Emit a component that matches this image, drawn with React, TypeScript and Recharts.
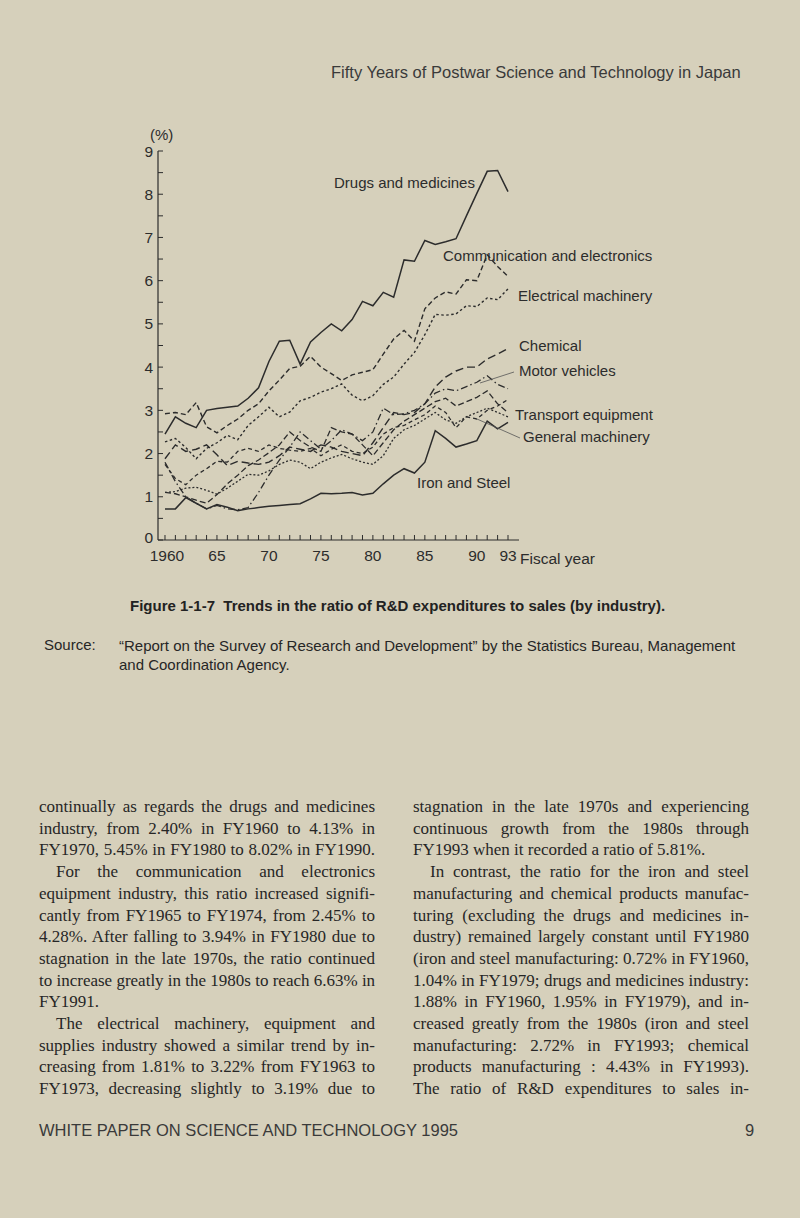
import React from 'react';
import { LineChart, Line, XAxis, YAxis } from 'recharts';

const years = [1960, 1961, 1962, 1963, 1964, 1965, 1966, 1967, 1968, 1969, 1970, 1971, 1972, 1973, 1974, 1975, 1976, 1977, 1978, 1979, 1980, 1981, 1982, 1983, 1984, 1985, 1986, 1987, 1988, 1989, 1990, 1991, 1992, 1993];

const drugs = [2.45, 2.85, 2.7, 2.6, 3.0, 3.04, 3.07, 3.1, 3.28, 3.52, 4.13, 4.6, 4.62, 4.07, 4.58, 4.8, 5.0, 4.84, 5.1, 5.52, 5.42, 5.73, 5.62, 6.48, 6.45, 6.93, 6.84, 6.9, 6.97, 7.5, 8.02, 8.53, 8.55, 8.06];
const communication = [2.92, 2.95, 2.9, 3.18, 2.62, 2.48, 2.65, 2.8, 3.0, 3.15, 3.45, 3.7, 3.97, 4.02, 4.25, 4.0, 3.85, 3.69, 3.82, 3.88, 3.94, 4.3, 4.65, 4.85, 4.6, 5.35, 5.6, 5.74, 5.69, 6.02, 6.0, 6.6, 6.33, 6.1];
const electrical = [2.27, 2.35, 2.14, 1.88, 2.12, 2.25, 2.42, 2.32, 2.65, 2.85, 3.07, 2.85, 2.96, 3.22, 3.3, 3.42, 3.5, 3.61, 3.35, 3.22, 3.34, 3.6, 3.77, 4.07, 4.34, 4.75, 5.22, 5.2, 5.23, 5.42, 5.4, 5.6, 5.56, 5.81];
const chemical = [1.88, 2.2, 2.05, 2.1, 2.2, 1.97, 1.72, 1.82, 1.78, 1.75, 1.8, 1.95, 2.15, 2.1, 2.05, 2.2, 2.15, 2.05, 2.0, 1.95, 2.25, 2.6, 2.95, 2.9, 2.95, 3.15, 3.54, 3.77, 3.91, 4.0, 4.0, 4.19, 4.3, 4.43];
const motorVehicles = [1.8, 1.35, 1.0, 0.85, 0.72, 0.8, 0.72, 0.7, 0.75, 1.1, 1.5, 1.85, 2.15, 2.5, 2.3, 2.1, 2.3, 2.55, 2.45, 2.3, 2.5, 3.05, 2.9, 2.92, 3.0, 3.15, 3.4, 3.5, 3.45, 3.55, 3.65, 3.8, 3.6, 3.5];
const generalMachinery = [1.75, 1.42, 1.28, 1.5, 1.65, 1.82, 1.8, 2.05, 2.12, 2.05, 2.2, 2.12, 2.08, 2.05, 2.12, 1.95, 2.1, 2.2, 2.05, 2.0, 2.15, 2.45, 2.6, 2.65, 2.78, 2.9, 3.1, 2.95, 2.6, 2.85, 2.8, 3.0, 3.1, 3.25];
const transportEquipment = [1.1, 1.07, 1.0, 0.92, 0.85, 1.05, 1.3, 1.5, 1.72, 1.85, 2.02, 2.2, 2.5, 2.3, 2.15, 2.05, 2.6, 2.5, 2.45, 2.2, 1.95, 2.25, 2.55, 2.75, 2.9, 3.05, 3.2, 3.28, 3.1, 3.2, 3.3, 3.45, 3.15, 2.95];
const otherIndustry = [1.1, 1.12, 1.2, 1.22, 1.15, 1.06, 1.2, 1.36, 1.52, 1.5, 1.6, 1.75, 1.85, 1.8, 1.65, 1.8, 1.9, 1.98, 1.88, 1.8, 1.75, 1.95, 2.35, 2.55, 2.65, 2.8, 2.95, 2.78, 2.7, 2.85, 2.95, 3.05, 2.95, 2.85];
const ironSteel = [0.72, 0.72, 0.98, 0.85, 0.72, 0.82, 0.76, 0.68, 0.72, 0.75, 0.78, 0.8, 0.82, 0.84, 0.95, 1.08, 1.07, 1.08, 1.1, 1.04, 1.08, 1.3, 1.5, 1.65, 1.55, 1.8, 2.53, 2.35, 2.15, 2.22, 2.3, 2.75, 2.57, 2.72];

const xLabels: Record<number, string> = { 1960: '1960', 1965: '65', 1970: '70', 1975: '75', 1980: '80', 1985: '85', 1990: '90', 1993: '93' };
const yTicks = [0, 0.5, 1, 1.5, 2, 2.5, 3, 3.5, 4, 4.5, 5, 5.5, 6, 6.5, 7, 7.5, 8, 8.5, 9];

const seriesStyles = [
  { key: 'drugs', dash: undefined, width: 1.5 },
  { key: 'communication', dash: '5 3', width: 1.4 },
  { key: 'electrical', dash: '2.5 2.5', width: 1.4 },
  { key: 'chemical', dash: '8 4', width: 1.4 },
  { key: 'motorVehicles', dash: '7 3 1.5 3', width: 1.3 },
  { key: 'generalMachinery', dash: '4 3', width: 1.3 },
  { key: 'transportEquipment', dash: '6 3', width: 1.3 },
  { key: 'otherIndustry', dash: '2 2', width: 1.3 },
  { key: 'ironSteel', dash: undefined, width: 1.5 },
];

const data = years.map((year, i) => ({
  year,
  drugs: drugs[i],
  communication: communication[i],
  electrical: electrical[i],
  chemical: chemical[i],
  motorVehicles: motorVehicles[i],
  generalMachinery: generalMachinery[i],
  transportEquipment: transportEquipment[i],
  otherIndustry: otherIndustry[i],
  ironSteel: ironSteel[i],
}));

const INK = '#2c2c2c';
const SANS = '"Liberation Sans", Arial, Helvetica, sans-serif';
const SERIF = '"Liberation Serif", "Times New Roman", serif';

const XTick = (props: any) => {
  const { x, y, payload } = props;
  const label = xLabels[payload.value];
  return (
    <g>
      <line x1={x} x2={x} y1={y} y2={y - 5} stroke={INK} strokeWidth={1} />
      {label && (
        <text x={payload.value === 1960 ? x + 2 : x} y={y + 21} textAnchor="middle" fontFamily={SANS} fontSize={15.5} fill={INK}>
          {label}
        </text>
      )}
    </g>
  );
};

const YTick = (props: any) => {
  const { x, y, payload } = props;
  const isInt = Number.isInteger(payload.value);
  return (
    <g>
      <line x1={x} x2={x + 5} y1={y} y2={y} stroke={INK} strokeWidth={1} />
      {isInt && (
        <text x={x - 5} y={payload.value === 0 ? y + 3 : y + 5.5} textAnchor="end" fontFamily={SANS} fontSize={15.5} fill={INK}>
          {payload.value}
        </text>
      )}
    </g>
  );
};

const chartLabels = [
  { text: 'Drugs and medicines', x: 334, y: 183 },
  { text: 'Communication and electronics', x: 443, y: 256 },
  { text: 'Electrical machinery', x: 518, y: 296 },
  { text: 'Chemical', x: 519, y: 346 },
  { text: 'Motor vehicles', x: 519, y: 371 },
  { text: 'Transport equipment', x: 515, y: 415 },
  { text: 'General machinery', x: 523, y: 437 },
  { text: 'Iron and Steel', x: 417, y: 483 },
];

const leftLines = [
  'continually as regards the drugs and medicines',
  'industry, from 2.40% in FY1960 to 4.13% in',
  'FY1970, 5.45% in FY1980 to 8.02% in FY1990.',
  '\u2003For the communication and electronics',
  'equipment industry, this ratio increased signifi-',
  'cantly from FY1965 to FY1974, from 2.45% to',
  '4.28%. After falling to 3.94% in FY1980 due to',
  'stagnation in the late 1970s, the ratio continued',
  'to increase greatly in the 1980s to reach 6.63% in',
  'FY1991.',
  '\u2003The electrical machinery, equipment and',
  'supplies industry showed a similar trend by in-',
  'creasing from 1.81% to 3.22% from FY1963 to',
  'FY1973, decreasing slightly to 3.19% due to',
];
const leftEnds = [9];

const rightLines = [
  'stagnation in the late 1970s and experiencing',
  'continuous growth from the 1980s through',
  'FY1993 when it recorded a ratio of 5.81%.',
  '\u2003In contrast, the ratio for the iron and steel',
  'manufacturing and chemical products manufac-',
  'turing (excluding the drugs and medicines in-',
  'dustry) remained largely constant until FY1980',
  '(iron and steel manufacturing: 0.72% in FY1960,',
  '1.04% in FY1979; drugs and medicines industry:',
  '1.88% in FY1960, 1.95% in FY1979), and in-',
  'creased greatly from the 1980s (iron and steel',
  'manufacturing: 2.72% in FY1993; chemical',
  'products manufacturing : 4.43% in FY1993).',
  'The ratio of R&D expenditures to sales in-',
];
const rightEnds = [2];

const BODY_TOP = 807;
const BODY_STEP = 21.7;
const COL_W = 336;

function Column({ lines, ends, left }: { lines: string[]; ends: number[]; left: number }) {
  return (
    <>
      {lines.map((t, i) => {
        const last = ends.includes(i);
        return (
          <div
            key={i}
            style={{
              position: 'absolute',
              left,
              top: BODY_TOP + i * BODY_STEP - 11,
              width: COL_W,
              height: 22,
              lineHeight: '22px',
              fontFamily: SERIF,
              fontSize: 17,
              color: '#262626',
              textAlign: last ? 'left' : 'justify',
              textAlignLast: last ? 'left' : 'justify',
              whiteSpace: 'pre',
            } as React.CSSProperties}
          >
            {t}
          </div>
        );
      })}
    </>
  );
}

export default function App() {
  return (
    <div style={{ position: 'absolute', left: 0, top: 0, width: 800, height: 1218, background: '#d6d0bb', overflow: 'hidden' }}>
      <div style={{ position: 'absolute', left: 331, top: 62, fontFamily: SANS, fontSize: 16.5, color: '#3a3a3a', whiteSpace: 'nowrap', lineHeight: '20px' }}>
        Fifty Years of Postwar Science and Technology in Japan
      </div>

      <div style={{ position: 'absolute', left: 0, top: 0 }}>
        <LineChart width={800} height={600} data={data} margin={{ top: 151, right: 281, bottom: 30, left: 98 }}>
          <XAxis
            dataKey="year"
            type="number"
            domain={[1959.327, 1994.058]}
            ticks={years}
            interval={0}
            height={30}
            tickSize={0}
            tickMargin={0}
            tickLine={false}
            axisLine={{ stroke: INK, strokeWidth: 1.2 }}
            tick={<XTick />}
            allowDataOverflow
          />
          <YAxis
            type="number"
            domain={[0, 9]}
            ticks={yTicks}
            interval={0}
            width={60}
            tickSize={0}
            tickMargin={0}
            tickLine={false}
            axisLine={{ stroke: INK, strokeWidth: 1.2 }}
            tick={<YTick />}
            allowDataOverflow
          />
          {seriesStyles.map((s) => (
            <Line
              key={s.key}
              dataKey={s.key}
              type="linear"
              stroke={INK}
              strokeWidth={s.width}
              strokeDasharray={s.dash}
              dot={false}
              activeDot={false}
              isAnimationActive={false}
            />
          ))}
        </LineChart>
      </div>

      <div style={{ position: 'absolute', left: 150, top: 126, fontFamily: SANS, fontSize: 15, color: INK, lineHeight: '18px' }}>(%)</div>
      <div style={{ position: 'absolute', left: 520, top: 550, fontFamily: SANS, fontSize: 15.5, color: INK, lineHeight: '18px', whiteSpace: 'nowrap' }}>Fiscal year</div>

      {chartLabels.map((l) => (
        <div key={l.text} style={{ position: 'absolute', left: l.x, top: l.y - 9, fontFamily: SANS, fontSize: 15, color: INK, lineHeight: '18px', whiteSpace: 'nowrap' }}>
          {l.text}
        </div>
      ))}
      <svg width={800} height={600} style={{ position: 'absolute', left: 0, top: 0, pointerEvents: 'none' }}>
        <line x1={480} y1={383} x2={514} y2={372} stroke="#555" strokeWidth={0.8} />
        <line x1={477} y1={419} x2={520} y2={438} stroke="#555" strokeWidth={0.8} />
      </svg>

      <div style={{ position: 'absolute', left: 130, top: 597, fontFamily: SANS, fontWeight: 'bold', fontSize: 15, color: '#222', lineHeight: '18px', whiteSpace: 'pre' }}>
        {'Figure 1-1-7  Trends in the ratio of R&D expenditures to sales (by industry).'}
      </div>
      <div style={{ position: 'absolute', left: 44, top: 636, fontFamily: SANS, fontSize: 15, color: '#262626', lineHeight: '18px' }}>Source:</div>
      <div style={{ position: 'absolute', left: 119, top: 636, fontFamily: SANS, fontSize: 15, color: '#262626', lineHeight: '19px', whiteSpace: 'pre' }}>
        {'\u201cReport on the Survey of Research and Development\u201d by the Statistics Bureau, Management\nand Coordination Agency.'}
      </div>

      <Column lines={leftLines} ends={leftEnds} left={39} />
      <Column lines={rightLines} ends={rightEnds} left={413} />

      <div style={{ position: 'absolute', left: 39, top: 1120, fontFamily: SANS, fontSize: 16.5, color: '#3a3a3a', lineHeight: '20px', whiteSpace: 'nowrap' }}>
        WHITE PAPER ON SCIENCE AND TECHNOLOGY 1995
      </div>
      <div style={{ position: 'absolute', left: 745, top: 1120, fontFamily: SANS, fontSize: 16.5, color: '#3a3a3a', lineHeight: '20px' }}>9</div>
    </div>
  );
}
